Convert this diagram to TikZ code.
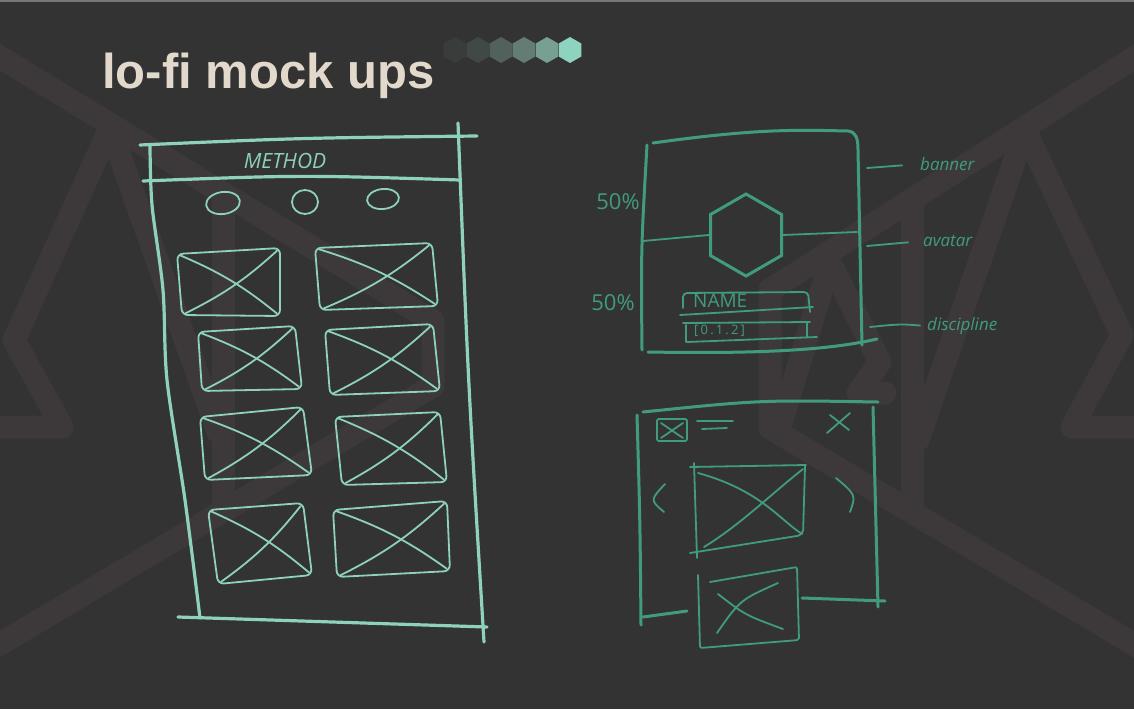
\documentclass[tikz,border=0pt]{standalone}
\usepackage{fontspec}
\setmainfont{Liberation Sans}
\newfontfamily\handfont{Open Sans}
\usetikzlibrary{shapes.geometric}

\definecolor{bgcol}{HTML}{333333}
\definecolor{markcol}{HTML}{3D393A}
\definecolor{titlecol}{HTML}{E2D9CC}
\definecolor{mint}{HTML}{8ED1BD}
\definecolor{sage}{HTML}{409C7C}
\definecolor{shadeA}{HTML}{383D3C}
\definecolor{shadeB}{HTML}{414947}
\definecolor{shadeC}{HTML}{52615C}
\definecolor{shadeD}{HTML}{637D75}
\definecolor{shadeE}{HTML}{77A092}
\definecolor{shadeF}{HTML}{8ED3C0}

\tikzset{
	logoband/.style={markcol, line width=23, line join=round, line cap=round},
	mintline/.style={mint, line width=3.2, line cap=round, line join=round},
	mintthin/.style={mint, line width=1.8, line cap=round, line join=round},
	sageline/.style={sage, line width=3, line cap=round, line join=round},
	sagethin/.style={sage, line width=1.8, line cap=round, line join=round},
	hexdot/.style={regular polygon, regular polygon sides=6, regular polygon rotate=30,
		minimum size=26, inner sep=0, fill=#1},
	handcaps/.style={text=#1, inner sep=0, font=\handfont\fontsize{19}{19}\selectfont},
	handnote/.style={text=sage, inner sep=0, anchor=west, font=\handfont\itshape\fontsize{17}{17}\selectfont},
}

\begin{document}
\begin{tikzpicture}[x=1pt, y=-1pt]
	\def\imgbox#1#2#3#4#5{
		\draw[#5, rounded corners=6] (#1) -- (#2) -- (#3) -- (#4) -- cycle;
		\draw[#5, shorten <=4, shorten >=4] (#1) to[bend left=8] (#3);
		\draw[#5, shorten <=4, shorten >=4] (#4) to[bend right=8] (#2);
	}

	\useasboundingbox (0,0) rectangle (1134,709);
	\fill[bgcol] (0,0) rectangle (1134,709);
	\clip (0,0) rectangle (1134,709);
	\draw[line width=2, black!45!bgcol!60!white] (0,1) -- (1134,1);

	% watermark, left
	\draw[logoband] (-20,45) -- (433,321) -- (433,386) -- (-20,656);
	\draw[logoband] (223,193) -- (223,510);
	\draw[logoband] (110,128) -- (14,340) -- (62,427) -- (-20,427);
	\draw[logoband] (110,128) -- (218,432);

	% watermark, right
	\draw[logoband] (1154,45) -- (770,290) -- (770,428) -- (1154,656);
	\draw[logoband] (912,199) -- (912,512);
	\draw[logoband] (1025,130) -- (1122,335) -- (1072,427) -- (1154,427);
	\draw[logoband] (1025,130) -- (918,440);
	\draw[logoband] (830,262) -- (782,420);
	\draw[logoband] (830,262) -- (880,362) -- (858,393) -- (885,393);

	% title
	\node[anchor=base west, inner sep=0, text=titlecol,
		font=\bfseries\fontsize{49}{49}\selectfont] (title) at (102,88) {lo-fi mock ups};

	\node[hexdot=shadeA] (dot1) at (455,50) {};
	\node[hexdot=shadeB] (dot2) at (478,50) {};
	\node[hexdot=shadeC] (dot3) at (501,50) {};
	\node[hexdot=shadeD] (dot4) at (524,50) {};
	\node[hexdot=shadeE] (dot5) at (547,50) {};
	\node[hexdot=shadeF] (dot6) at (570,50) {};

	% list screen
	\draw[mintline] (140,145) .. controls (300,138) .. (477,136);
	\draw[mintline] (458,123) .. controls (468,380) .. (484,642);
	\draw[mintline] plot[smooth] coordinates {(150,145) (152,205) (163,290) (167,380) (185,500) (200,618)};
	\draw[mintline] (143,181) .. controls (300,175) .. (460,180);
	\draw[mintline] (178,617) -- (487,627);

	\node[handcaps=mint, font=\handfont\itshape\fontsize{21}{21}\selectfont] (method) at (285,161) {METHOD};

	\draw[mintthin] (223,203) ellipse [x radius=17, y radius=11, rotate=8];
	\draw[mintthin] (305,202) ellipse [x radius=13, y radius=12];
	\draw[mintthin] (383,199) ellipse [x radius=16, y radius=10, rotate=6];

	\imgbox{177,254}{280,248}{280,316}{182,315}{mintthin}
	\imgbox{315,248}{432,243}{438,306}{320,310}{mintthin}
	\imgbox{198,332}{295,326}{302,389}{202,391}{mintthin}
	\imgbox{325,330}{433,324}{440,391}{330,395}{mintthin}
	\imgbox{200,417}{303,407}{312,475}{205,480}{mintthin}
	\imgbox{335,417}{440,412}{447,482}{342,485}{mintthin}
	\imgbox{208,510}{303,503}{312,575}{218,584}{mintthin}
	\imgbox{333,510}{447,501}{450,571}{337,577}{mintthin}

	% profile card
	\draw[sageline] (653,143) .. controls (760,128) and (800,130) .. (848,131)
		.. controls (856,132) and (858,138) .. (858,150) -- (862,345);
	\draw[sageline] (647,145) .. controls (641,250) .. (642,350);
	\draw[sageline] (648,352) .. controls (760,354) and (830,350) .. (877,339);

	\node[draw=sage, line width=3, regular polygon, regular polygon sides=6,
		regular polygon rotate=30, minimum size=82, inner sep=0] (avatar) at (746,235) {};
	\coordinate (midL) at (643,241);
	\coordinate (midR) at (857,232);
	\draw[sagethin] (midL) -- (avatar.west);
	\draw[sagethin] (avatar.east) -- (midR);

	\draw[sagethin, rounded corners=4] (683,308) -- (683,293) -- (808,292) -- (810,312);
	\draw[sagethin] (680,315) -- (813,307);
	\node[handcaps=sage, anchor=west] (name) at (693,301) {NAME};

	\draw[sagethin] (686,342) -- (686,325);
	\draw[sagethin] (683,323) -- (810,322);
	\draw[sagethin] (687,342) -- (817,337);
	\draw[sagethin] (807,322) -- (807,337);
	\node[handcaps=sage, anchor=west, font=\handfont\fontsize{13}{13}\selectfont] (range) at (694,331) {[\,0\,.\,1\,.\,2\,]};

	\node[handcaps=sage, font=\handfont\fontsize{22}{22}\selectfont] (upper) at (618,202) {50\%};
	\node[handcaps=sage, font=\handfont\fontsize{22}{22}\selectfont] (lower) at (613,303) {50\%};

	\node[handnote] (banner) at (920,164) {banner};
	\node[handnote] (avatarnote) at (923,241) {avatar};
	\node[handnote] (discipline) at (927,326) {discipline};
	\coordinate (bannerTick) at (867,168);
	\coordinate (avatarTick) at (867,246);
	\coordinate (disciplineTick) at (870,327);
	\draw[sagethin, shorten >=18] (bannerTick) -- (banner.west);
	\draw[sagethin, shorten >=15] (avatarTick) -- (avatarnote.west);
	\draw[sagethin, shorten >=7] (disciplineTick) .. controls (900,324) .. (discipline.west);

	% gallery card
	\draw[sageline] (643,412) .. controls (760,400) .. (878,402);
	\draw[sageline] (637,415) .. controls (640,520) .. (641,625);
	\draw[sageline] (873,407) -- (878,607);
	\draw[sageline] (643,617) -- (687,611);
	\draw[sageline] (802,598) -- (885,601);

	\draw[sagethin, rounded corners=2] (657,419) rectangle (687,441);
	\draw[sagethin] (661,423) -- (683,438);
	\draw[sagethin] (661,438) -- (683,423);
	\draw[sagethin] (697,421) -- (733,421);
	\draw[sagethin] (702,429) -- (727,428);
	\draw[sagethin] (827,433) -- (850,413);
	\draw[sagethin] (830,415) -- (849,430);

	\draw[sagethin] (690,467) -- (806,465);
	\draw[sagethin] (694,463) -- (697,558);
	\draw[sagethin, rounded corners=5] (805,466) -- (803,535) -- (690,553);
	\draw[sagethin] (698,473) .. controls (760,490) and (780,520) .. (802,534);
	\draw[sagethin] (704,547) .. controls (740,525) and (770,495) .. (803,469);
	\draw[sagethin] (665,484) .. controls (650,500) .. (664,512);
	\draw[sagethin] (836,478) .. controls (856,495) .. (850,512);

	\draw[sagethin, rounded corners=2] (710,582) -- (797,567) -- (799,640) -- (700,648) -- (698,575);
	\draw[sagethin] (718,594) .. controls (745,615) .. (783,629);
	\draw[sagethin] (717,633) .. controls (740,600) .. (778,583);
\end{tikzpicture}
\end{document}
